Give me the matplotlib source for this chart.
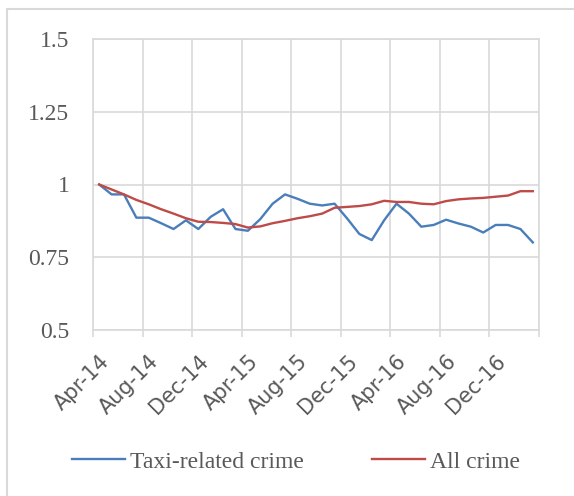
import numpy as np
import matplotlib
matplotlib.use("Agg")
from matplotlib import pyplot as plt
from matplotlib.patches import Rectangle

# monthly index, Apr-14 = 1
months = ["Apr-14", "May-14", "Jun-14", "Jul-14", "Aug-14", "Sep-14", "Oct-14", "Nov-14",
          "Dec-14", "Jan-15", "Feb-15", "Mar-15", "Apr-15", "May-15", "Jun-15", "Jul-15",
          "Aug-15", "Sep-15", "Oct-15", "Nov-15", "Dec-15", "Jan-16", "Feb-16", "Mar-16",
          "Apr-16", "May-16", "Jun-16", "Jul-16", "Aug-16", "Sep-16", "Oct-16", "Nov-16",
          "Dec-16", "Jan-17", "Feb-17", "Mar-17"]
taxi_crime = [1.000, 0.966, 0.966, 0.886, 0.886, 0.867, 0.847, 0.877, 0.847, 0.889,
              0.915, 0.847, 0.841, 0.881, 0.934, 0.966, 0.951, 0.934, 0.928, 0.934,
              0.884, 0.830, 0.809, 0.877, 0.934, 0.900, 0.855, 0.861, 0.879, 0.866,
              0.855, 0.835, 0.861, 0.861, 0.847, 0.801]
all_crime = [1.000, 0.983, 0.966, 0.947, 0.932, 0.915, 0.900, 0.884, 0.872, 0.871,
             0.868, 0.864, 0.852, 0.856, 0.867, 0.875, 0.884, 0.891, 0.900, 0.920,
             0.923, 0.926, 0.932, 0.944, 0.940, 0.940, 0.934, 0.932, 0.943, 0.949,
             0.952, 0.954, 0.958, 0.962, 0.977, 0.977]
y_ticks = [0.5, 0.75, 1, 1.25, 1.5]
y_labels = ["0.5", "0.75", "1", "1.25", "1.5"]

grid_clr = "#d9d9d9"
text_clr = "#595959"
W, H = 574, 496

fig = plt.figure(figsize=(W / 100, H / 100), dpi=100)
# chart area border (runs off the right and bottom of the picture)
fig.patches.append(Rectangle((7 / W, -0.1), 1.2, 1 - 9 / H + 0.1, transform=fig.transFigure,
                             fill=False, edgecolor=grid_clr, linewidth=1.5))

ax = fig.add_axes([93 / W, 1 - 330 / H, (539 - 93) / W, (330 - 39) / H])
x = np.arange(len(months))
ax.plot(x, taxi_crime, color="#4a7ebb", lw=1.7, label="Taxi-related crime")
ax.plot(x, all_crime, color="#be4b48", lw=1.7, label="All crime")

ax.set_xlim(-0.5, len(months) - 0.5)
ax.set_ylim(0.5, 1.5)

# labels every 4 months, gridlines between categories
ax.set_xticks(x[::4])
ax.set_xticklabels(months[::4], rotation=45, ha="right", rotation_mode="anchor",
                   family="DejaVu Sans", fontsize=15, color=text_clr)
ax.set_xticks(np.arange(-0.5, len(months), 4), minor=True)
ax.tick_params(axis="x", which="major", length=0, pad=15)
ax.tick_params(axis="x", which="minor", length=5, color=grid_clr, width=1.2)
ax.grid(axis="x", which="minor", color=grid_clr, lw=1.2)

ax.set_yticks(y_ticks)
ax.set_yticklabels(y_labels, family="Liberation Serif", fontsize=17, color=text_clr)
ax.tick_params(axis="y", length=0, pad=17)
ax.grid(axis="y", which="major", color=grid_clr, lw=1.2)
ax.set_axisbelow(True)
for s in ax.spines.values():
    s.set_color(grid_clr)
    s.set_linewidth(1.2)

fig.legend(loc="center", bbox_to_anchor=(296 / W, 1 - 462 / H), ncol=2, frameon=False,
           prop={"family": "Liberation Serif", "size": 17}, labelcolor=text_clr,
           handlelength=2.25, handletextpad=0.2, columnspacing=2.9)

fig.savefig("out.png", dpi=100)
